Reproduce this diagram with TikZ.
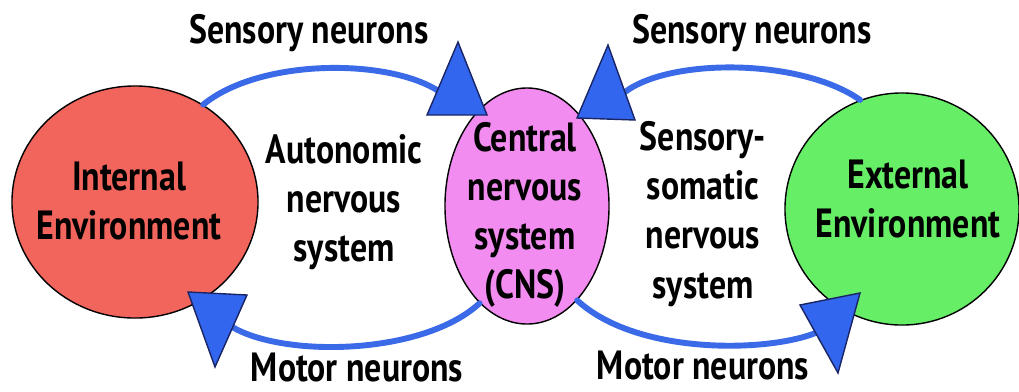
\documentclass[tikz,border=0pt]{standalone}
\usepackage{fontspec}
\setmainfont[FakeStretch=0.83]{PT Sans}
\usepackage{tikz}
\usetikzlibrary{shapes.geometric}
\usepackage{xcolor}
\definecolor{inred}{HTML}{F2655D}
\definecolor{cnspink}{HTML}{F28CF0}
\definecolor{exgreen}{HTML}{66EE66}
\definecolor{nerveblue}{HTML}{3A6AE8}
\definecolor{tipblue}{HTML}{3366EE}
\definecolor{tipnavy}{HTML}{1A2566}

\begin{document}
\begin{tikzpicture}[x=0.025cm,y=-0.025cm,font=\bfseries\fontsize{29}{35}\selectfont,line cap=round,
  env/.style={ellipse,draw=black,line width=1pt,inner sep=0pt},
  nerve/.style={draw=nerveblue,line width=4.2pt},
  tip/.style={fill=tipblue,draw=tipnavy,line width=1pt,line join=miter},
  lbl/.style={align=center,inner sep=0pt}]
\useasboundingbox (0,0) rectangle (1019,391);
\node[env,fill=inred,minimum width=6.15cm,minimum height=5.8cm] (int) at (135,202) {};
\node[env,fill=cnspink,minimum width=4.1cm,minimum height=5.9cm] (cns) at (527,206) {};
\node[env,fill=exgreen,minimum width=5.85cm,minimum height=5.8cm] (ext) at (902,209) {};
\node[lbl] (inttext) at (129,201) {Internal\\Environment};
\node[lbl] (cnstext) at (525,215) {Central\\nervous\\system\\(CNS)};
\node[lbl] (exttext) at (908,199) {External\\Environment};
\node[lbl] (ans) at (344,202) {Autonomic\\nervous\\system};
\node[lbl] (sns) at (703,214) {Sensory-\\somatic\\nervous\\system};
\node[lbl,anchor=base] (sensl) at (309,43) {Sensory neurons};
\node[lbl,anchor=base] (sensr) at (752,43) {Sensory neurons};
\node[lbl,anchor=base] (motl) at (357,381) {Motor neurons};
\node[lbl,anchor=base] (motr) at (703,379) {Motor neurons};
\coordinate (tipsl) at (440,92);
\coordinate (tipsr) at (625,92);
\coordinate (tipml) at (225,322);
\coordinate (tipmr) at (822,330);
\draw[nerve] (int.55) .. controls (260,58) and (390,58) .. (tipsl);
\draw[nerve] (ext.111) .. controls (800,58) and (670,58) .. (tipsr);
\draw[nerve] (cns.244) .. controls (420,358) and (270,358) .. (tipml);
\draw[nerve] (cns.298) .. controls (640,358) and (780,352) .. (tipmr);
\filldraw[tip] (427,115) -- (487,115) -- (458,42) -- cycle;
\filldraw[tip] (577,118) -- (635,120) -- (608,45) -- cycle;
\filldraw[tip] (188,292) -- (247,295) -- (215,367) -- cycle;
\filldraw[tip] (800,305) -- (860,293) -- (838,373) -- cycle;
\end{tikzpicture}
\end{document}
